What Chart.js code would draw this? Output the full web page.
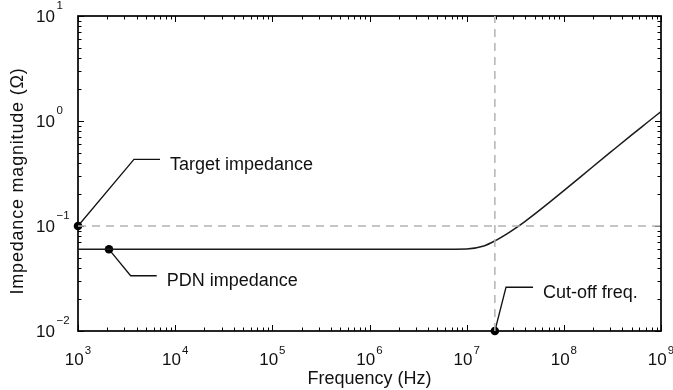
<!DOCTYPE html>
<html><head><meta charset="utf-8">
<script src="https://cdn.jsdelivr.net/npm/chart.js@4/dist/chart.umd.min.js"></script>
<style>html,body{margin:0;padding:0;background:#fff}#wrap{width:673px;height:390px;position:relative}</style>
</head><body><div id="wrap"><canvas id="c"></canvas></div>
<script>
// ---- data ----
const freqHz = [1e3, 1e4, 1e5, 1e6, 5e6, 1e7, 1.5e7, 2e7, 2.5e7, 3e7, 4e7, 5e7, 7e7, 1e8, 2e8, 3e8, 5e8, 7e8, 1e9];
const pdnOhm = [0.06, 0.06, 0.06, 0.06, 0.0601, 0.0605, 0.0646, 0.073, 0.0822, 0.0918, 0.1109, 0.1297, 0.166, 0.217, 0.369, 0.502, 0.738, 0.946, 1.23];
const targetOhm = 0.1;
const cutoffHz = 1.95e7;
const xRange = [1e3, 1e9];
const yRange = [1e-2, 1e1];
const xTickExponents = [3, 4, 5, 6, 7, 8, 9];
const yTickExponents = [-2, -1, 0, 1];
const xTitle = 'Frequency (Hz)';
const yTitle = 'Impedance magnitude (Ω)';
const annotationLabels = ['Target impedance', 'PDN impedance', 'Cut-off freq.'];
const targetLeaderX = [1e3, 3767, 6982];
const targetLeaderY = [0.1, 0.431, 0.431];
const pdnLeaderX = [2084, 3484, 6457];
const pdnLeaderY = [0.06, 0.0336, 0.0336];
const cutLeaderX = [1.95e7, 2.54e7, 4.82e7];
const cutLeaderY = [0.01, 0.0261, 0.0261];

const FONT = '"Liberation Sans", Arial, Helvetica, sans-serif';
const pts = (xs, ys) => xs.map((x, i) => ({x, y: ys[i]}));
const dashColor = '#b3b3b3';

const leader = (xs, ys) => ({
  data: pts(xs, ys), borderColor: '#111', borderWidth: 1.3, clip: false,
  pointRadius: c => c.dataIndex === 0 ? 4.3 : 0,
  pointBackgroundColor: '#000', pointBorderColor: '#000', pointBorderWidth: 0,
  tension: 0
});

const leaders = [[targetLeaderX, targetLeaderY], [pdnLeaderX, pdnLeaderY], [cutLeaderX, cutLeaderY]];

const decor = {
  id: 'decor',
  beforeDatasetsDraw(chart) {
    const {ctx, chartArea: a, scales: {x, y}} = chart;
    ctx.save();
    ctx.strokeStyle = '#000';
    ctx.lineWidth = 1;
    const majL = 6, minL = 3.5;
    ctx.beginPath();
    for (let d = 3; d <= 9; d++) {
      for (let m = 1; m <= 9; m++) {
        const v = m * Math.pow(10, d);
        if (v > xRange[1] * 1.0001) break;
        const px = Math.round(x.getPixelForValue(v)) + 0.5;
        const L = m === 1 ? majL : minL;
        ctx.moveTo(px, a.bottom); ctx.lineTo(px, a.bottom - L);
        ctx.moveTo(px, a.top); ctx.lineTo(px, a.top + L);
      }
    }
    for (let d = -2; d <= 1; d++) {
      for (let m = 1; m <= 9; m++) {
        const v = m * Math.pow(10, d);
        if (v > yRange[1] * 1.0001) break;
        const py = Math.round(y.getPixelForValue(v)) + 0.5;
        const L = m === 1 ? majL : minL;
        ctx.moveTo(a.left, py); ctx.lineTo(a.left + L, py);
        ctx.moveTo(a.right, py); ctx.lineTo(a.right - L, py);
      }
    }
    ctx.stroke();
    ctx.lineWidth = 1.7;
    ctx.strokeRect(a.left, a.top, a.right - a.left, a.bottom - a.top);
    ctx.restore();
  },
  afterDraw(chart) {
    const {ctx, chartArea: a, scales: {x, y}} = chart;
    ctx.save();
    ctx.fillStyle = '#111';
    ctx.textBaseline = 'alphabetic';
    const baseF = '17px ' + FONT, expF = '11.5px ' + FONT;
    const expStr = e => (e < 0 ? '\u2212' + (-e) : String(e));
    xTickExponents.forEach(e => {
      const px = x.getPixelForValue(Math.pow(10, e));
      ctx.font = baseF; const wb = ctx.measureText('10').width;
      ctx.font = expF; const we = ctx.measureText(expStr(e)).width;
      const left = px - (wb + 1 + we) / 2;
      const base = 365;
      ctx.font = baseF; ctx.textAlign = 'left'; ctx.fillText('10', left, base);
      ctx.font = expF; ctx.fillText(expStr(e), left + wb + 1, base - 11.5);
    });
    yTickExponents.forEach(e => {
      const py = y.getPixelForValue(Math.pow(10, e));
      ctx.font = baseF; const wb = ctx.measureText('10').width;
      const left = 36;
      const base = py + 6;
      ctx.textAlign = 'left'; ctx.fillText('10', left, base);
      ctx.font = expF; ctx.fillText(expStr(e), left + wb + 1.5, base - 13);
    });
    ctx.font = '18px ' + FONT;
    ctx.textAlign = 'center';
    ctx.fillText(xTitle, (a.left + a.right) / 2, 384);
    ctx.save();
    ctx.translate(18, 181);
    ctx.rotate(-Math.PI / 2);
    ctx.letterSpacing = '0.8px';
    ctx.textBaseline = 'middle';
    ctx.fillText(yTitle, 0, 0);
    ctx.restore();
    ctx.font = '18px ' + FONT;
    ctx.textAlign = 'left';
    ctx.textBaseline = 'alphabetic';
    leaders.forEach(([xs, ys], i) => {
      const n = xs.length - 1;
      const px = x.getPixelForValue(xs[n]);
      const py = y.getPixelForValue(ys[n]);
      ctx.fillText(annotationLabels[i], px + 10, py + 10.5);
    });
    ctx.restore();
  }
};

new Chart(document.getElementById('c'), {
  type: 'line',
  data: {
    datasets: [
      {data: pts([xRange[0], xRange[1]], [targetOhm, targetOhm]), borderColor: dashColor, borderWidth: 1.5, borderDash: [8, 6], pointRadius: 0},
      {data: pts([cutoffHz, cutoffHz], [yRange[0], yRange[1]]), borderColor: dashColor, borderWidth: 1.5, borderDash: [8, 6], pointRadius: 0},
      {data: pts(freqHz, pdnOhm), borderColor: '#1a1a1a', borderWidth: 1.5, pointRadius: 0, cubicInterpolationMode: 'monotone'},
      leader(targetLeaderX, targetLeaderY),
      leader(pdnLeaderX, pdnLeaderY),
      leader(cutLeaderX, cutLeaderY)
    ]
  },
  options: {
    responsive: true, maintainAspectRatio: false, animation: false,
    layout: {padding: {left: 78, right: 12, top: 16, bottom: 59}},
    plugins: {legend: {display: false}, tooltip: {enabled: false}},
    scales: {
      x: {type: 'logarithmic', min: xRange[0], max: xRange[1], display: false},
      y: {type: 'logarithmic', min: yRange[0], max: yRange[1], display: false}
    }
  },
  plugins: [decor]
});
</script>
</body></html>
